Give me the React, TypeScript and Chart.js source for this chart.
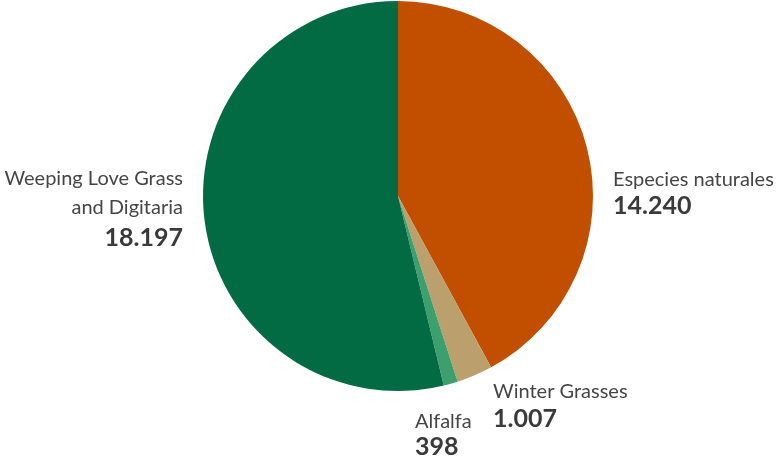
import React, { useEffect, useRef } from "react";
import { Chart, registerables } from "chart.js";

Chart.register(...registerables);

const categories = ["Especies naturales", "Winter Grasses", "Alfalfa", "Weeping Love Grass and Digitaria"];
const values = [14240, 1007, 398, 18197];
const valueLabels = ["14.240", "1.007", "398", "18.197"];
const labelLines = [["Especies naturales"], ["Winter Grasses"], ["Alfalfa"], ["Weeping Love Grass", "and Digitaria"]];
const colors = ["#C24F00", "#BBA06D", "#3E9F6E", "#036B43"];

const labelPlugin = {
  id: "sliceLabels",
  afterDraw(chart: any) {
    const ctx = chart.ctx;
    const meta = chart.getDatasetMeta(0);
    const arc0 = meta.data[0];
    const cx = arc0.x;
    const cy = arc0.y;
    // anchor offsets relative to pie centre: [x, baseline of first line, align, line gap, number gap]
    const anchors: [number, number, CanvasTextAlign, number, number][] = [
      [215, -10, "left", 29, 28],
      [95, 202, "left", 29, 29],
      [17, 232, "left", 29, 27],
      [-215, -11, "right", 29, 32],
    ];
    ctx.save();
    labelLines.forEach((lines, i) => {
      const [dx, dy, align, gap, ngap] = anchors[i];
      const x = cx + dx;
      let y = cy + dy;
      ctx.textAlign = align;
      ctx.textBaseline = "alphabetic";
      ctx.fillStyle = "#454545";
      ctx.font = "20px Lato";
      lines.forEach((ln, j) => {
        if (j > 0) y += gap;
        ctx.fillText(ln, x, y);
      });
      y += ngap;
      ctx.fillStyle = "#3a3a3a";
      ctx.font = "bold 25px Lato";
      ctx.fillText(valueLabels[i], x, y);
    });
    ctx.restore();
  },
};

export default function App() {
  const ref = useRef<HTMLCanvasElement>(null);
  useEffect(() => {
    document.body.style.margin = "0";
    const chart = new Chart(ref.current!, {
      type: "pie",
      data: {
        labels: categories,
        datasets: [
          {
            data: values,
            backgroundColor: colors,
            borderWidth: 0,
          },
        ],
      },
      options: {
        responsive: false,
        animation: false,
        layout: { padding: { left: 203, right: 184, top: 1, bottom: 73 } },
        plugins: {
          legend: { display: false },
          tooltip: { enabled: false },
        },
      },
      plugins: [labelPlugin],
    });
    return () => chart.destroy();
  }, []);
  return <canvas ref={ref} width={777} height={464} style={{ display: "block" }} />;
}
